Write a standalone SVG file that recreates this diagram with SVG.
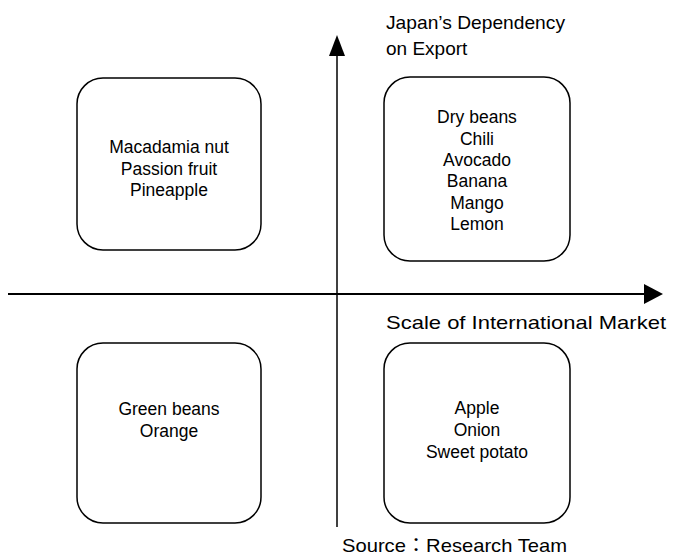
<svg xmlns="http://www.w3.org/2000/svg" width="679" height="556" viewBox="0 0 679 556">
  <style>
    .box { fill: #ffffff; stroke: #000000; stroke-width: 1.5; }
    .item { font-family: "Liberation Sans", "Noto Sans CJK JP", sans-serif; font-size: 17.5px; fill: #000000; text-anchor: middle; }
    .label { font-family: "Liberation Sans", "Noto Sans CJK JP", sans-serif; font-size: 19px; fill: #000000; }
    .axis { stroke: #000000; fill: none; }
    .head { fill: #000000; stroke: none; }
  </style>
  <rect width="679" height="556" fill="#ffffff"/>

  <!-- axes -->
  <g id="connectors">
    <line class="axis" x1="337" y1="527" x2="337" y2="55" stroke-width="1.5"/>
    <polygon class="head" points="337,35 329,56 345,56"/>
    <line class="axis" x1="8" y1="294" x2="645" y2="294" stroke-width="2"/>
    <polygon class="head" points="663,294 644,284 644,304"/>
  </g>

  <!-- axis labels -->
  <g id="label-y">
    <text class="label" x="386" y="29" textLength="179" lengthAdjust="spacingAndGlyphs">Japan’s Dependency</text>
    <text class="label" x="386" y="55">on Export</text>
  </g>
  <g id="label-x">
    <text class="label" x="386" y="329" textLength="280" lengthAdjust="spacingAndGlyphs">Scale of International Market</text>
  </g>

  <!-- quadrants -->
  <g id="quad-top-left">
    <rect class="box" x="77" y="78" width="184" height="172" rx="26" ry="26"/>
    <text class="item" x="169" y="153">Macadamia nut</text>
    <text class="item" x="169" y="174.5">Passion fruit</text>
    <text class="item" x="169" y="196">Pineapple</text>
  </g>

  <g id="quad-top-right">
    <rect class="box" x="384" y="77" width="186" height="184" rx="26" ry="26"/>
    <text class="item" x="477" y="123">Dry beans</text>
    <text class="item" x="477" y="144.5">Chili</text>
    <text class="item" x="477" y="166">Avocado</text>
    <text class="item" x="477" y="187">Banana</text>
    <text class="item" x="477" y="208.5">Mango</text>
    <text class="item" x="477" y="230">Lemon</text>
  </g>

  <g id="quad-bottom-left">
    <rect class="box" x="77" y="343" width="184" height="180" rx="26" ry="26"/>
    <text class="item" x="169" y="415">Green beans</text>
    <text class="item" x="169" y="437">Orange</text>
  </g>

  <g id="quad-bottom-right">
    <rect class="box" x="384" y="343" width="186" height="180" rx="26" ry="26"/>
    <text class="item" x="477" y="414">Apple</text>
    <text class="item" x="477" y="436">Onion</text>
    <text class="item" x="477" y="458">Sweet potato</text>
  </g>

  <g id="source">
    <text class="label" x="342" y="552" textLength="225" lengthAdjust="spacingAndGlyphs">Source：Research Team</text>
  </g>
</svg>
